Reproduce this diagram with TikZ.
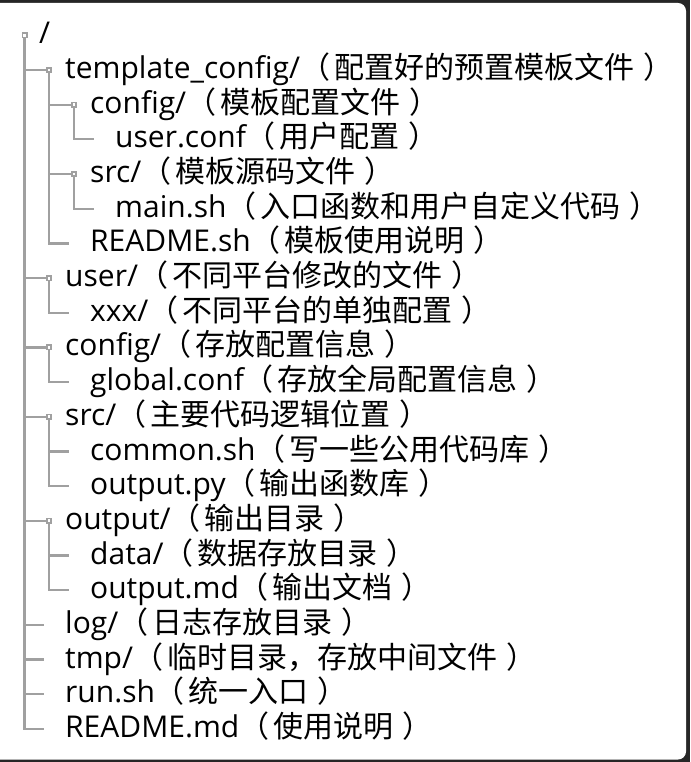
\documentclass[tikz,border=0pt]{standalone}
\usepackage{fontspec}
\setmainfont{Open Sans}
\newfontfamily\cjk{Noto Sans CJK SC}
\usepackage{tikz}
\definecolor{treegray}{HTML}{A0A0A0}
\definecolor{frame}{HTML}{262626}
% chinese remark in full-width brackets, spaced as in the screenshot
\newcommand{\filenote}[1]{{\cjk\fontsize{30}{34}\selectfont （\hspace{4pt}#1\hspace{9pt}）}}

\begin{document}
\begin{tikzpicture}[x=1pt, y=-1pt,
	branch/.style={draw=treegray, line width=2.2pt},
	folderbox/.style={draw=treegray, fill=white, line width=1.6pt},
	entry/.style={anchor=base west, inner sep=0pt, text=black, font=\fontsize{30}{34}\selectfont}]
	\useasboundingbox (0,0) rectangle (690,762);
	% frame of the screenshot
	\fill [frame] (0,0) rectangle (690,762);
	\begin{scope}
		\clip (0,0) rectangle (690,762);
		\fill [white, rounded corners=8pt] (-20,3) rectangle (686,759.5);
	\end{scope}
	% tree points: folders at their box, files at the end of their branch
	\coordinate (k0)  at (24.5,35.3);
	\coordinate (k1)  at (49,70.0);
	\coordinate (k2)  at (74,104.7);
	\coordinate (k3)  at (94,139.3);
	\coordinate (k4)  at (74,174.0);
	\coordinate (k5)  at (94,208.7);
	\coordinate (k6)  at (69,243.4);
	\coordinate (k7)  at (49,278.1);
	\coordinate (k8)  at (69,312.7);
	\coordinate (k9)  at (49,347.4);
	\coordinate (k10) at (69,382.1);
	\coordinate (k11) at (49,416.8);
	\coordinate (k12) at (69,451.5);
	\coordinate (k13) at (69,486.1);
	\coordinate (k14) at (49,520.8);
	\coordinate (k15) at (69,555.5);
	\coordinate (k16) at (69,590.2);
	\coordinate (k17) at (44,624.9);
	\coordinate (k18) at (44,659.5);
	\coordinate (k19) at (44,694.2);
	\coordinate (k20) at (44,728.9);
	% branches
	\foreach \c in {1,7,9,11,14,17,18,19,20} \draw [branch] (k0) |- (k\c);
	\foreach \c in {2,4,6} \draw [branch] (k1) |- (k\c);
	\draw [branch] (k2) |- (k3);
	\draw [branch] (k4) |- (k5);
	\draw [branch] (k7) |- (k8);
	\draw [branch] (k9) |- (k10);
	\foreach \c in {12,13} \draw [branch] (k11) |- (k\c);
	\foreach \c in {15,16} \draw [branch] (k14) |- (k\c);
	% folder boxes
	\foreach \b in {0,1,2,4,7,9,11,14}
		\draw [folderbox] ([shift={(-2.2,-2.2)}]k\b) rectangle ([shift={(2.2,2.2)}]k\b);
	% entries
	\node[entry] (t0)  at (39,43.8)  {/};
	\node[entry] (t1)  at (65,78.5)  {template\_config/\filenote{配置好的预置模板文件}};
	\node[entry] (t2)  at (90,113.2) {config/\filenote{模板配置文件}};
	\node[entry] (t3)  at (115,147.8){user.conf\filenote{用户配置}};
	\node[entry] (t4)  at (90,182.5) {src/\filenote{模板源码文件}};
	\node[entry] (t5)  at (115,217.2){main.sh\filenote{入口函数和用户自定义代码}};
	\node[entry] (t6)  at (90,251.9) {README.sh\filenote{模板使用说明}};
	\node[entry] (t7)  at (65,286.6) {user/\filenote{不同平台修改的文件}};
	\node[entry] (t8)  at (90,321.2) {xxx/\filenote{不同平台的单独配置}};
	\node[entry] (t9)  at (65,355.9) {config/\filenote{存放配置信息}};
	\node[entry] (t10) at (90,390.6) {global.conf\filenote{存放全局配置信息}};
	\node[entry] (t11) at (65,425.3) {src/\filenote{主要代码逻辑位置}};
	\node[entry] (t12) at (90,460.0) {common.sh\filenote{写一些公用代码库}};
	\node[entry] (t13) at (90,494.6) {output.py\filenote{输出函数库}};
	\node[entry] (t14) at (65,529.3) {output/\filenote{输出目录}};
	\node[entry] (t15) at (90,564.0) {data/\filenote{数据存放目录}};
	\node[entry] (t16) at (90,598.7) {output.md\filenote{输出文档}};
	\node[entry] (t17) at (65,633.4) {log/\filenote{日志存放目录}};
	\node[entry] (t18) at (65,668.0) {tmp/\filenote{临时目录，存放中间文件}};
	\node[entry] (t19) at (65,702.7) {run.sh\filenote{统一入口}};
	\node[entry] (t20) at (65,737.4) {README.md\filenote{使用说明}};
\end{tikzpicture}
\end{document}
